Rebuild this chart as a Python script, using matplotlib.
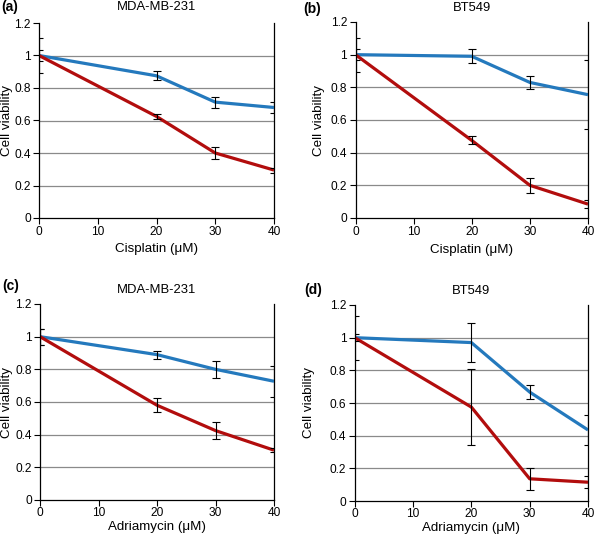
import matplotlib
matplotlib.use("Agg")
import matplotlib.pyplot as plt
from matplotlib.ticker import FuncFormatter, MultipleLocator

plt.rcParams['font.family'] = ['Liberation Sans', 'DejaVu Sans']

doses = [0, 20, 30, 40]

# Panel (a) MDA-MB-231, Cisplatin
a_blue = [1.0, 0.875, 0.713, 0.68]
a_blue_err = [0.035, 0.028, 0.034, 0.035]
a_red = [1.0, 0.625, 0.40, 0.295]
a_red_err = [0.11, 0.017, 0.037, 0.015]

# Panel (b) BT549, Cisplatin
b_blue = [1.0, 0.99, 0.83, 0.755]
b_blue_err = [0.035, 0.043, 0.04, 0.21]
b_red = [1.0, 0.475, 0.20, 0.085]
b_red_err = [0.105, 0.024, 0.045, 0.025]

# Panel (c) MDA-MB-231, Adriamycin
c_blue = [1.0, 0.89, 0.80, 0.727]
c_blue_err = [0.048, 0.025, 0.05, 0.095]
c_red = [1.0, 0.58, 0.425, 0.305]
c_red_err = [0.048, 0.043, 0.052, 0.012]

# Panel (d) BT549, Adriamycin
d_blue = [1.0, 0.97, 0.667, 0.435]
d_blue_err = [0.02, 0.12, 0.045, 0.092]
d_red = [1.0, 0.575, 0.136, 0.115]
d_red_err = [0.135, 0.232, 0.069, 0.037]

panel_labels = ["(a)", "(b)", "(c)", "(d)"]
titles = ["MDA-MB-231", "BT549", "MDA-MB-231", "BT549"]
xlabels = ["Cisplatin (\u03bcM)", "Cisplatin (\u03bcM)", "Adriamycin (\u03bcM)", "Adriamycin (\u03bcM)"]
ylabel = "Cell viability"

BLUE = "#2479BD"
RED = "#B20D0D"

W, H = 595, 537
fig = plt.figure(figsize=(W / 100, H / 100), dpi=100)

# axes boxes in pixels: left, top, right, bottom
boxes = [
    (39, 23, 274, 218),
    (355.5, 22, 588, 218),
    (40, 304, 274, 500),
    (354.7, 305, 588, 501),
]
ylabel_right_px = [13, 325, 13.3, 315.3]
xlabel_center_px = [249, 250, 527, 527.5]
xtick_pad = [2, 2, 1, 1]
title_center_px = [7.5, 8, 290, 290.5]
panel_label_px = [(1.5, 7), (303, 9), (2, 286), (304, 290)]

data = [
    (a_blue, a_blue_err, a_red, a_red_err),
    (b_blue, b_blue_err, b_red, b_red_err),
    (c_blue, c_blue_err, c_red, c_red_err),
    (d_blue, d_blue_err, d_red, d_red_err),
]

fmt = FuncFormatter(lambda v, p: ("%g" % round(v, 2)))

for i, (box, (bl, ble, rd, rde)) in enumerate(zip(boxes, data)):
    l, t, r, b = box
    wpx, hpx = r - l, b - t
    ax = fig.add_axes((l / W, 1 - b / H, wpx / W, hpx / H))
    ax.set_xlim(0, 40)
    ax.set_ylim(0, 1.2)
    ax.yaxis.set_major_locator(MultipleLocator(0.2))
    ax.xaxis.set_major_locator(MultipleLocator(10))
    ax.yaxis.set_major_formatter(fmt)
    for y in [0.2, 0.4, 0.6, 0.8, 1.0]:
        ax.axhline(y, color="#8a8a8a", lw=0.9, zorder=1)
    ax.plot(doses, bl, color=BLUE, lw=2.3, zorder=3, solid_capstyle='butt')
    ax.plot(doses, rd, color=RED, lw=2.3, zorder=3, solid_capstyle='butt')
    ax.errorbar(doses, bl, yerr=ble, fmt='none', ecolor='black', elinewidth=0.8,
                capsize=3, capthick=0.8, zorder=4)
    ax.errorbar(doses, rd, yerr=rde, fmt='none', ecolor='black', elinewidth=0.8,
                capsize=3, capthick=0.8, zorder=4)
    ax.spines['top'].set_visible(False)
    for s in ['left', 'bottom', 'right']:
        ax.spines[s].set_color('black')
        ax.spines[s].set_linewidth(0.9)
    ax.tick_params(direction='out', length=4, width=0.8, labelsize=8.6, pad=2)
    ax.tick_params(axis='x', pad=xtick_pad[i])
    ax.set_xlabel(xlabels[i], fontsize=9.6, va='center')
    ax.xaxis.set_label_coords(0.5, -(xlabel_center_px[i] - b) / hpx)
    ax.set_ylabel(ylabel, fontsize=9.6)
    ax.yaxis.set_label_coords((ylabel_right_px[i] - l) / wpx, 0.5)
    ax.text(0.5, 1 + (t - title_center_px[i]) / hpx, titles[i], transform=ax.transAxes,
            ha='center', va='center', fontsize=9.4)
    px, py = panel_label_px[i]
    fig.text(px / W, 1 - py / H, panel_labels[i], fontsize=10,
             fontweight='bold', ha='left', va='center')

fig.savefig("out.png", dpi=100)
